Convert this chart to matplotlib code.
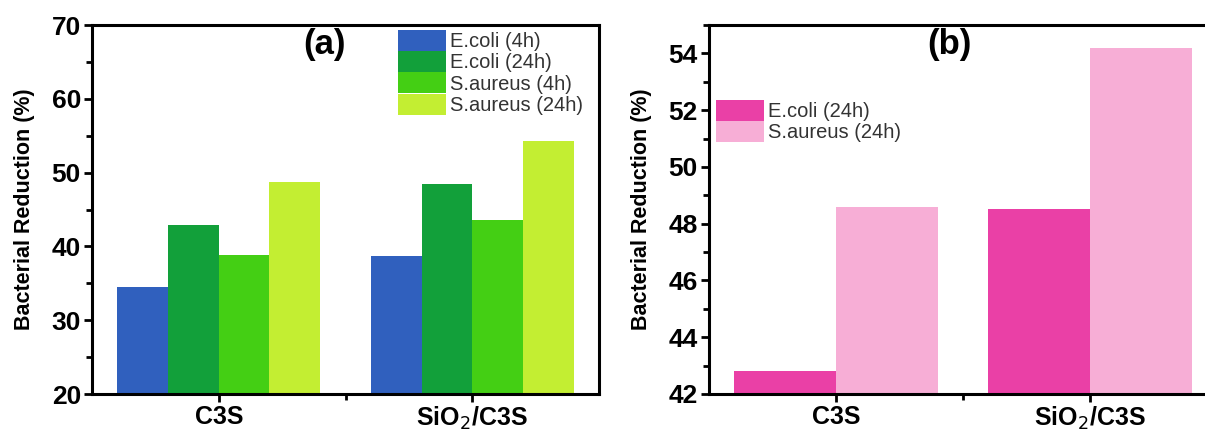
import matplotlib
matplotlib.use("Agg")
import matplotlib.pyplot as plt
import numpy as np
from matplotlib.ticker import MultipleLocator, FixedLocator

plt.rcParams['font.family'] = ['Liberation Sans', 'DejaVu Sans']

# Bacterial reduction data
samples = ["C3S", "SiO$_2$/C3S"]
series_a = ["E.coli (4h)", "E.coli (24h)", "S.aureus (4h)", "S.aureus (24h)"]
ecoli_4h = [34.5, 38.7]
ecoli_24h = [42.9, 48.5]
saureus_4h = [38.9, 43.6]
saureus_24h = [48.7, 54.3]
colors_a = ["#3060BE", "#12A03A", "#44CF14", "#C3EE32"]

series_b = ["E.coli (24h)", "S.aureus (24h)"]
ecoli_24h_b = [42.8, 48.5]
saureus_24h_b = [48.6, 54.2]
colors_b = ["#EA40A6", "#F7AED6"]

W, H = 1205, 432
fig = plt.figure(figsize=(W / 100, H / 100), dpi=100)

ax1 = fig.add_axes([92 / W, 1 - 394 / H, (599 - 92) / W, (394 - 25) / H])
ax2 = fig.add_axes([709 / W, 1 - 394 / H, (1217 - 709) / W, (394 - 25) / H])

x = np.arange(len(samples))

def style_axes(ax):
    for s in ax.spines.values():
        s.set_linewidth(2.2)
    ax.tick_params(axis='both', which='major', direction='out', length=6, width=2,
                   labelsize=19)
    ax.tick_params(axis='both', which='minor', direction='out', length=4, width=2)
    ax.tick_params(axis='y', pad=2)
    ax.tick_params(axis='x', pad=2)
    ax.set_xticks(x)
    ax.set_xticklabels(samples, fontweight='bold', fontsize=18)
    ax.xaxis.set_minor_locator(FixedLocator([0.5]))
    for lab in ax.get_yticklabels():
        lab.set_fontweight('bold')
    ax.set_xlim(-0.5, 1.5)

legend_kw = dict(bbox_transform=fig.transFigure, frameon=False, fontsize=14.5,
                 handlelength=2.4, handleheight=1.22, labelspacing=0.0,
                 handletextpad=0.2, borderpad=0, borderaxespad=0,
                 labelcolor='#333333', loc='upper left')

# Panel (a)
w = 0.2
values_a = [ecoli_4h, ecoli_24h, saureus_4h, saureus_24h]
for i, (vals, lab, c) in enumerate(zip(values_a, series_a, colors_a)):
    ax1.bar(x + (i - 1.5) * w, vals, width=w, color=c, label=lab, zorder=2)
ax1.set_ylim(20, 70)
ax1.yaxis.set_major_locator(MultipleLocator(10))
ax1.yaxis.set_minor_locator(MultipleLocator(5))
style_axes(ax1)
ax1.set_ylabel("Bacterial Reduction (%)", fontsize=15.5, fontweight='bold', labelpad=12)
ax1.text(0.458, 0.946, "(a)", transform=ax1.transAxes, ha='center', va='center',
         fontsize=25, fontweight='bold')
ax1.legend(bbox_to_anchor=(398 / W, 1 - 30 / H), **legend_kw)

# Panel (b)
w2 = 0.4
values_b = [ecoli_24h_b, saureus_24h_b]
for i, (vals, lab, c) in enumerate(zip(values_b, series_b, colors_b)):
    ax2.bar(x + (i - 0.5) * w2, vals, width=w2, color=c, label=lab, zorder=2)
ax2.set_ylim(42, 55)
ax2.yaxis.set_major_locator(MultipleLocator(2))
ax2.yaxis.set_minor_locator(MultipleLocator(1))
style_axes(ax2)
ax2.set_ylabel("Bacterial Reduction (%)", fontsize=15.5, fontweight='bold', labelpad=12)
ax2.text(0.474, 0.946, "(b)", transform=ax2.transAxes, ha='center', va='center',
         fontsize=25, fontweight='bold')
ax2.legend(bbox_to_anchor=(716 / W, 1 - 100 / H), **legend_kw)

fig.savefig("out.png", dpi=100)
